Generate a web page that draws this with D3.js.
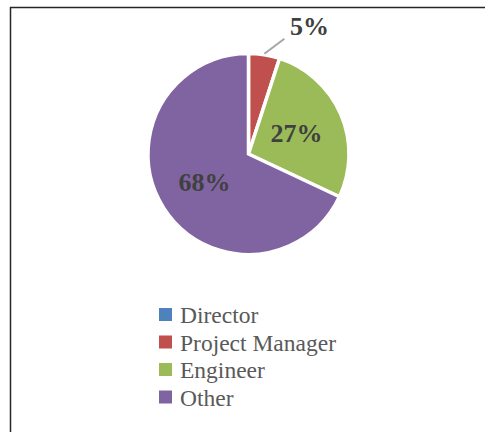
<!DOCTYPE html>
<html lang="en">
<head>
<meta charset="UTF-8">
<title>Pie chart</title>
<style>
    html, body { margin: 0; padding: 0; background: #fff; overflow: hidden; }
    svg { display: block; }
</style>
</head>
<body>
<svg id="chart" width="485" height="432"></svg>
<script src="https://cdn.jsdelivr.net/npm/d3@7"></script>
<script>
    // data
    const categories = ['Director', 'Project Manager', 'Engineer', 'Other'];
    const values = [0, 5, 27, 68];
    const colors = ['#4F81BD', '#C0504D', '#9BBB59', '#8064A2'];

    const serif = "'Liberation Serif', 'Times New Roman', 'DejaVu Serif', serif";
    const svg = d3.select('#chart');

    // cropped frame: only top and left edges show
    svg.append('path')
        .attr('d', 'M10.5,432 V7.5 H485')
        .attr('fill', 'none')
        .attr('stroke', '#262626')
        .attr('stroke-width', 1.5);

    const cx = 248.5, cy = 154, R = 100.5;
    const total = d3.sum(values);

    const pie = d3.pie().sort(null).value(d => d.value);
    const arcs = pie(categories.map((c, i) => ({ name: c, value: values[i] })));

    const arc = d3.arc().innerRadius(0).outerRadius(R);
    const labelArc = d3.arc().innerRadius(R * 0.52).outerRadius(R * 0.52);

    const g = svg.append('g').attr('transform', `translate(${cx},${cy})`);

    g.selectAll('path.slice')
        .data(arcs)
        .enter()
        .append('path')
        .attr('class', 'slice')
        .attr('d', arc)
        .attr('fill', (d, i) => colors[i])
        .attr('stroke', '#fff')
        .attr('stroke-width', 3.5)
        .attr('stroke-linejoin', 'miter');

    const pct = d => Math.round(d.value / total * 100) + '%';

    // labels: small slice goes outside with a leader line
    arcs.filter(d => d.value > 0).forEach(d => {
        const mid = (d.startAngle + d.endAngle) / 2;
        let x, y;
        if (d.value / total < 0.1) {
            const p0 = [Math.sin(mid) * (R + 1), -Math.cos(mid) * (R + 1)];
            const p1 = [p0[0] + 20, p0[1] - 15];
            g.append('line')
                .attr('x1', p0[0]).attr('y1', p0[1])
                .attr('x2', p1[0]).attr('y2', p1[1])
                .attr('stroke', '#A6A6A6')
                .attr('stroke-width', 2);
            x = p1[0] + 25;
            y = p1[1] - 4;
        } else {
            [x, y] = labelArc.centroid(d);
            y += 9;
        }
        g.append('text')
            .attr('x', x)
            .attr('y', y)
            .attr('text-anchor', 'middle')
            .attr('font-family', serif)
            .attr('font-size', 26)
            .attr('font-weight', 'bold')
            .attr('fill', '#404040')
            .text(pct(d));
    });

    // legend
    const legY = d3.scaleBand().domain(categories).range([304, 414]);
    const legend = svg.append('g').attr('transform', 'translate(159,0)');
    const rows = legend.selectAll('g')
        .data(categories)
        .enter()
        .append('g')
        .attr('transform', d => `translate(0,${legY(d)})`);
    rows.append('rect')
        .attr('x', 0).attr('y', 4)
        .attr('width', 13).attr('height', 13)
        .attr('fill', (d, i) => colors[i]);
    rows.append('text')
        .attr('x', 21).attr('y', 19)
        .attr('font-family', serif)
        .attr('font-size', 23.5)
        .attr('fill', '#595959')
        .text(d => d);
</script>
</body>
</html>
